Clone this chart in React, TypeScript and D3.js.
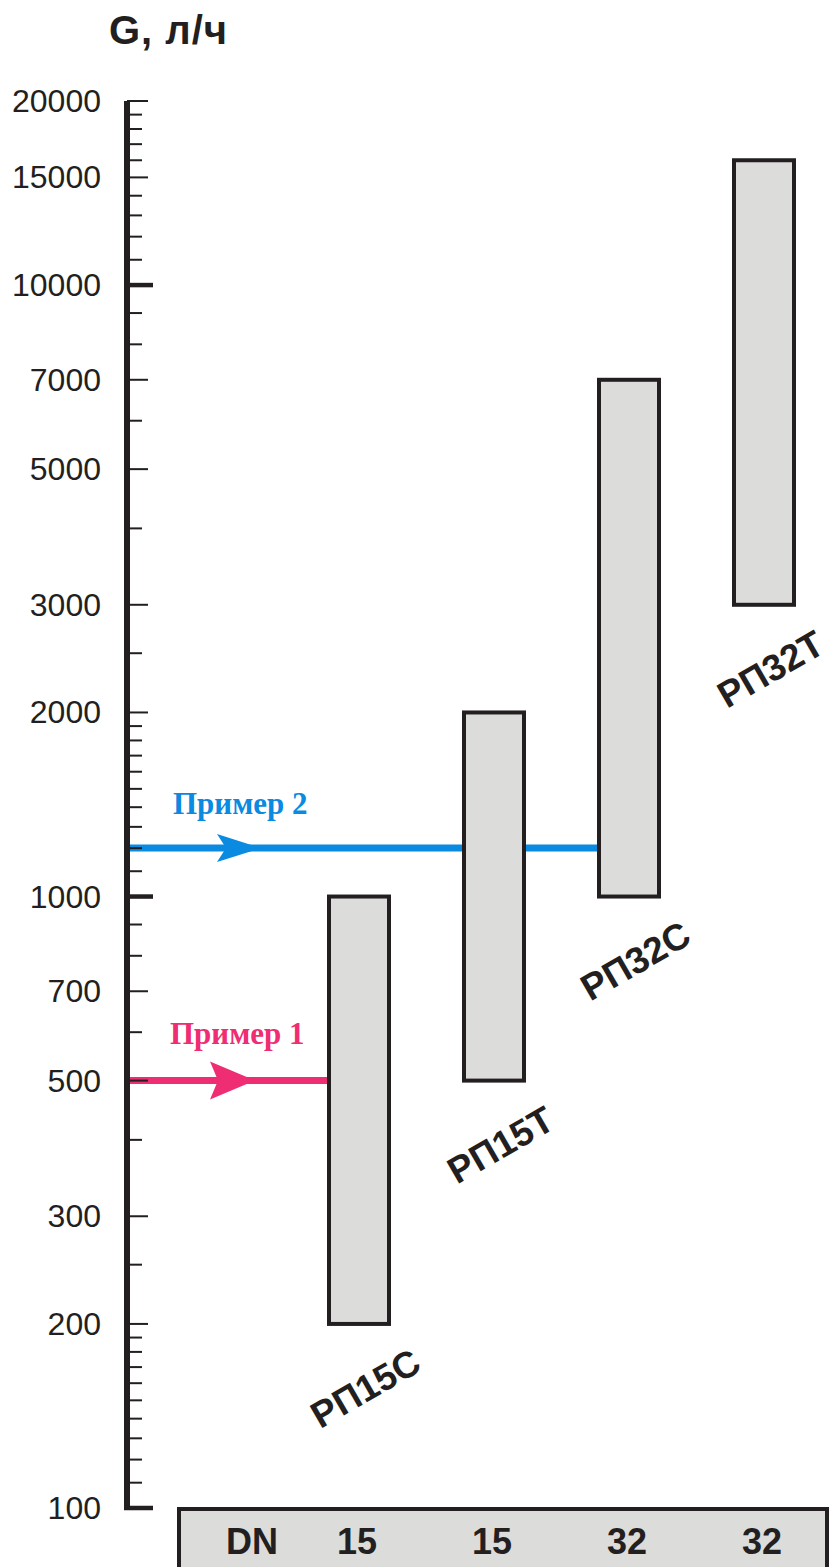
import React from "react";
import * as d3 from "d3";

const categories = ["РП15С", "РП15Т", "РП32С", "РП32Т"];
const dnValues = ["15", "15", "32", "32"];
const rangeMin = [200, 500, 1000, 3000];
const rangeMax = [1000, 2000, 7000, 16000];

const labeledTicks = [100, 200, 300, 500, 700, 1000, 2000, 3000, 5000, 7000, 10000, 15000, 20000];
const decadeTicks = [100, 1000, 10000];
const minorTicks = [
  110, 120, 130, 140, 150, 160, 170, 180, 190, 250, 400, 600, 800, 900,
  1100, 1200, 1300, 1400, 1500, 1600, 1700, 1800, 1900, 2500, 4000, 6000, 8000, 9000,
  11000, 12000, 13000, 14000, 16000, 17000, 18000, 19000,
];

const examples = [
  { label: "Пример 1", value: 500, target: "РП15С", color: "#ee2d72" },
  { label: "Пример 2", value: 1200, target: "РП32С", color: "#0a8ae0" },
];

const W = 831;
const H = 1567;
const DARK = "#231f20";
const FILL = "#dcdcdb";

export default function App() {
  const y = d3.scaleLog().domain([100, 20000]).range([1508, 101]);
  const x = d3.scaleBand<string>().domain(categories).range([291.5, 831.5]).padding(0);
  const cx = (c: string) => (x(c) as number) + x.bandwidth() / 2;
  const barW = 60;
  const axisX = 127;

  const arrowPath = (tipX: number, yy: number, len: number, half: number, notch: number) =>
    `M${tipX},${yy} L${tipX - len},${yy - half} L${tipX - len + notch},${yy} L${tipX - len},${yy + half} Z`;

  return (
    <svg width={W} height={H} style={{ position: "absolute", left: 0, top: 0, background: "#fff" }}
      fontFamily="'Liberation Sans', Arial, sans-serif">
      {/* title */}
      <text x={109} y={44} fontSize={40} fontWeight="bold" letterSpacing={1} fill={DARK}>G, л/ч</text>

      {/* example lines (behind bars) */}
      {examples.map((e, i) => {
        const yy = y(e.value);
        const endX = cx(e.target) - barW / 2;
        const isFirst = i === 0;
        return (
          <g key={e.label}>
            <line x1={axisX} x2={endX} y1={yy} y2={yy} stroke={e.color} strokeWidth={7} />
            <path d={isFirst ? arrowPath(255, yy, 45, 19, 8) : arrowPath(261, yy, 44, 14, 9)} fill={e.color} />
            <text x={isFirst ? 170 : 173} y={yy - (isFirst ? 37 : 34)} fontFamily="'Liberation Serif', 'Times New Roman', serif"
              fontWeight="bold" fontSize={31} fill={e.color}>{e.label}</text>
          </g>
        );
      })}

      {/* bars */}
      {categories.map((c, i) => (
        <rect key={c} x={cx(c) - barW / 2} y={y(rangeMax[i])} width={barW}
          height={y(rangeMin[i]) - y(rangeMax[i])} fill={FILL} stroke={DARK} strokeWidth={4} />
      ))}

      {/* rotated labels */}
      {categories.map((c, i) => (
        <text key={c} transform={`translate(${cx(c) + 8},${y(rangeMin[i]) + 67}) rotate(-30)`}
          textAnchor="middle" dominantBaseline="middle" fontSize={37} fontWeight="bold" fill={DARK}>{c}</text>
      ))}

      {/* axis */}
      <line x1={axisX} x2={axisX} y1={y(20000)} y2={y(100) + 2} stroke={DARK} strokeWidth={6} />
      {minorTicks.map((t) => (
        <line key={"m" + t} x1={axisX} x2={142} y1={y(t)} y2={y(t)} stroke={DARK} strokeWidth={2} />
      ))}
      {labeledTicks.filter((t) => !decadeTicks.includes(t)).map((t) => (
        <line key={"l" + t} x1={axisX} x2={148} y1={y(t)} y2={y(t)} stroke={DARK} strokeWidth={2} />
      ))}
      {decadeTicks.map((t) => (
        <line key={"d" + t} x1={axisX - 3} x2={153} y1={y(t)} y2={y(t)} stroke={DARK} strokeWidth={4.5} />
      ))}
      {labeledTicks.map((t) => (
        <text key={"t" + t} x={101} y={y(t)} textAnchor="end" dominantBaseline="central"
          fontSize={32} fill={DARK}>{t}</text>
      ))}

      {/* DN table */}
      <rect x={179} y={1509} width={648} height={80} fill={FILL} stroke={DARK} strokeWidth={4} />
      <text x={252} y={1554} textAnchor="middle" fontSize={36} fontWeight="bold" fill={DARK}>DN</text>
      {categories.map((c, i) => (
        <text key={"dn" + c} x={cx(c) - 2} y={1554} textAnchor="middle" fontSize={36} fontWeight="bold" fill={DARK}>{dnValues[i]}</text>
      ))}
    </svg>
  );
}
